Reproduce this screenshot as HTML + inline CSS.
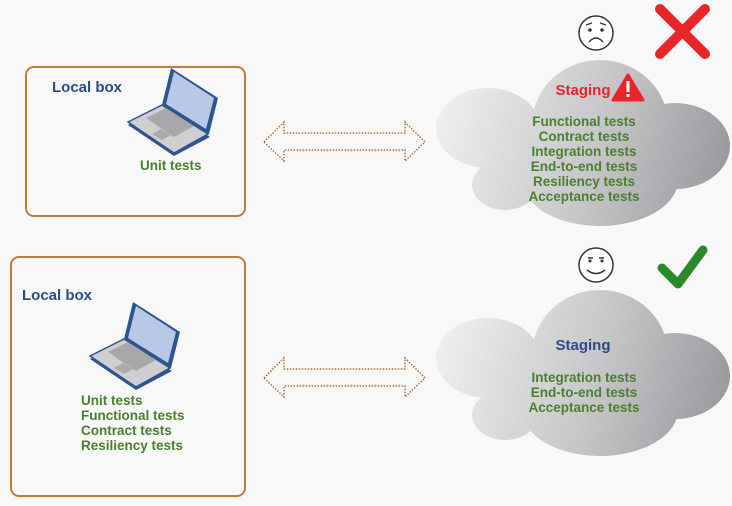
<!DOCTYPE html>
<html><head><meta charset="utf-8"><style>
body{margin:0;background:#f8f8f8;}
svg{display:block;font-family:"Liberation Sans",sans-serif;font-weight:bold;}
</style></head><body>
<svg width="732" height="506" viewBox="0 0 732 506" xmlns="http://www.w3.org/2000/svg">
<defs>
<linearGradient id="cg1" gradientUnits="userSpaceOnUse" x1="437" y1="100" x2="730" y2="180">
<stop offset="0" stop-color="#f0f0f0"/><stop offset="0.55" stop-color="#c6c6c8"/><stop offset="1" stop-color="#98989c"/>
</linearGradient>
<linearGradient id="cg2" gradientUnits="userSpaceOnUse" x1="437" y1="330" x2="730" y2="410">
<stop offset="0" stop-color="#f0f0f0"/><stop offset="0.55" stop-color="#c6c6c8"/><stop offset="1" stop-color="#98989c"/>
</linearGradient>
<clipPath id="c1">
<ellipse cx="488" cy="128" rx="52" ry="40"/>
<ellipse cx="675" cy="146" rx="55" ry="43"/>
<ellipse cx="505" cy="185" rx="33" ry="25"/>
<ellipse cx="600" cy="180" rx="78" ry="46"/>
<ellipse cx="600" cy="125" rx="68" ry="65"/>
<rect x="488" y="120" width="190" height="60"/>
</clipPath>
<clipPath id="c2">
<ellipse cx="488" cy="358" rx="52" ry="40"/>
<ellipse cx="675" cy="376" rx="55" ry="43"/>
<ellipse cx="505" cy="415" rx="33" ry="25"/>
<ellipse cx="600" cy="410" rx="78" ry="46"/>
<ellipse cx="600" cy="355" rx="68" ry="65"/>
<rect x="488" y="350" width="190" height="60"/>
</clipPath>
<g id="laptop">
<polygon points="0,57 34,39 82,69 46,88" fill="#2d5590"/>
<polygon points="0,54 34,37 80,66 46,85" fill="#cfcfd1" stroke="#2d5590" stroke-width="1.5"/>
<polygon points="18,50 38,40 66,58 46,69" fill="#a8a8aa"/>
<polygon points="24,66 33,61 43,67 34,72" fill="#aaa"/>
<polygon points="43,0 90,30 81,66 34,37" fill="#2d5590"/>
<polygon points="46,4 86,30 78,61 38,36" fill="#b8c8e6"/>
</g>
<g id="arrow">
<path d="M0,20 L20,0 L20,11 L141,11 L141,0 L161,20 L141,39 L141,28 L20,28 L20,39 Z" fill="none" stroke="#b0703a" stroke-width="1.5" stroke-dasharray="1.5 1.5"/>
</g>
</defs>
<rect x="26" y="67" width="219" height="149" rx="8" fill="none" stroke="#c47a3a" stroke-width="2"/>
<rect x="11" y="257" width="234" height="239" rx="8" fill="none" stroke="#c47a3a" stroke-width="2"/>
<text x="52" y="92" font-size="15" fill="#2c4a8a">Local box</text>
<text x="22" y="300" font-size="15" fill="#2c4a8a">Local box</text>
<use href="#laptop" x="128" y="68"/>
<use href="#laptop" x="90" y="302"/>
<g font-size="13.5" fill="#4a7f2f">
<text x="140" y="170">Unit tests</text>
<text x="81" y="405">Unit tests</text>
<text x="81" y="420">Functional tests</text>
<text x="81" y="435">Contract tests</text>
<text x="81" y="450">Resiliency tests</text>
</g>
<use href="#arrow" x="264" y="122"/>
<use href="#arrow" x="264" y="358"/>
<rect x="430" y="50" width="302" height="190" fill="url(#cg1)" clip-path="url(#c1)"/>
<rect x="430" y="280" width="302" height="190" fill="url(#cg2)" clip-path="url(#c2)"/>
<!-- sad face -->
<circle cx="596" cy="33" r="17" fill="#fff" stroke="#333" stroke-width="1.5"/>
<circle cx="590" cy="30" r="1.8" fill="#333"/><circle cx="602" cy="30" r="1.8" fill="#333"/>
<path d="M586,25 L592,23 M600,23 L606,25" stroke="#333" stroke-width="1.2"/>
<path d="M589,42 Q596,34 603,42" fill="none" stroke="#333" stroke-width="1.5"/>
<path d="M660,9 L705,54 M705,9 L660,54" stroke="#e8262a" stroke-width="10" stroke-linecap="round"/>
<!-- happy face -->
<circle cx="596" cy="265" r="17" fill="#fff" stroke="#333" stroke-width="1.5"/>
<path d="M588,258 L593,258 M599,258 L604,258" stroke="#333" stroke-width="1.5"/>
<circle cx="590" cy="261" r="1.5" fill="#333"/><circle cx="602" cy="261" r="1.5" fill="#333"/>
<path d="M587,270 Q596,277 605,270" fill="none" stroke="#333" stroke-width="1.5"/>
<path d="M662,268 L678,284 L703,250" fill="none" stroke="#2a8a2a" stroke-width="9" stroke-linecap="round" stroke-linejoin="round"/>
<text x="583" y="95" font-size="15" fill="#e8262a" text-anchor="middle">Staging</text>
<path d="M628,75 L643,100 L613,100 Z" fill="#e8262a" stroke="#e8262a" stroke-width="3" stroke-linejoin="round"/>
<rect x="626.5" y="81" width="3" height="11" fill="#fff"/><rect x="626.5" y="94" width="3" height="3" fill="#fff"/>
<g font-size="13.5" fill="#4a7f2f" text-anchor="middle">
<text x="584" y="126">Functional tests</text>
<text x="584" y="141">Contract tests</text>
<text x="584" y="156">Integration tests</text>
<text x="584" y="171">End-to-end tests</text>
<text x="584" y="186">Resiliency tests</text>
<text x="584" y="201">Acceptance tests</text>
<text x="584" y="382">Integration tests</text>
<text x="584" y="397">End-to-end tests</text>
<text x="584" y="412">Acceptance tests</text>
</g>
<text x="583" y="350" font-size="15" fill="#2c4a8a" text-anchor="middle">Staging</text>
</svg>
</body></html>
